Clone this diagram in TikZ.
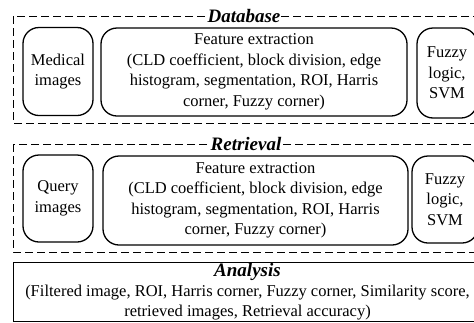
\documentclass[tikz,border=0pt]{standalone}
\usepackage{fontspec}
\setmainfont{Liberation Serif}
\usepackage{tikz}
\tikzset{
  frame/.style={draw=black, line width=0.8pt, dash pattern=on 8pt off 4pt},
  blockbox/.style={draw=black, line width=1.3pt, rounded corners=16pt, align=center, inner sep=2pt,
    font=\fontsize{16.5}{20.5}\selectfont},
  heading/.style={fill=white, inner sep=0.6pt, font=\fontsize{19}{22}\selectfont\bfseries\itshape},
  summary/.style={draw=black, line width=0.8pt, align=center, inner sep=0pt,
    font=\fontsize{16.5}{20}\selectfont},
}

\begin{document}
\begin{tikzpicture}[x=1pt,y=1pt]
  \clip (0,0) rectangle (474,-322);
  \useasboundingbox (0,0) rectangle (474,-322);

  % database stage
  \draw[frame] (13,-16) rectangle (488,-123);
  \node[heading] (dbtitle) at (244,-16) {Database};
  \node[blockbox, minimum width=70pt, minimum height=88pt] (medical) at (58,-71.5) {Medical\\images};
  \node[blockbox, minimum width=306pt, minimum height=88pt] (dbfeat) at (254,-72)
    {Feature extraction\\(CLD coefficient, block division, edge\\histogram, segmentation, ROI, Harris\\corner, Fuzzy corner)};
  \node[blockbox, minimum width=60pt, minimum height=90pt] (dbfuzzy) at (447,-73) {Fuzzy\\logic,\\SVM};

  % retrieval stage
  \draw[frame] (13,-144) rectangle (488,-252);
  \node[heading] (rttitle) at (246,-144) {Retrieval};
  \node[blockbox, minimum width=70pt, minimum height=87pt] (query) at (58,-198.5) {Query\\images};
  \node[blockbox, minimum width=305pt, minimum height=89pt] (rtfeat) at (255.5,-200.5)
    {Feature extraction\\(CLD coefficient, block division, edge\\histogram, segmentation, ROI, Harris\\corner, Fuzzy corner)};
  \node[blockbox, minimum width=66pt, minimum height=87pt] (rtfuzzy) at (445,-199.5) {Fuzzy\\logic,\\SVM};

  % analysis
  \node[summary, minimum width=469pt, minimum height=59pt] (analysis) at (247.5,-291.5)
    {{\fontsize{19}{20}\selectfont\bfseries\itshape Analysis}\\(Filtered image, ROI, Harris corner, Fuzzy corner, Similarity score,\\retrieved images, Retrieval accuracy)};
\end{tikzpicture}
\end{document}
